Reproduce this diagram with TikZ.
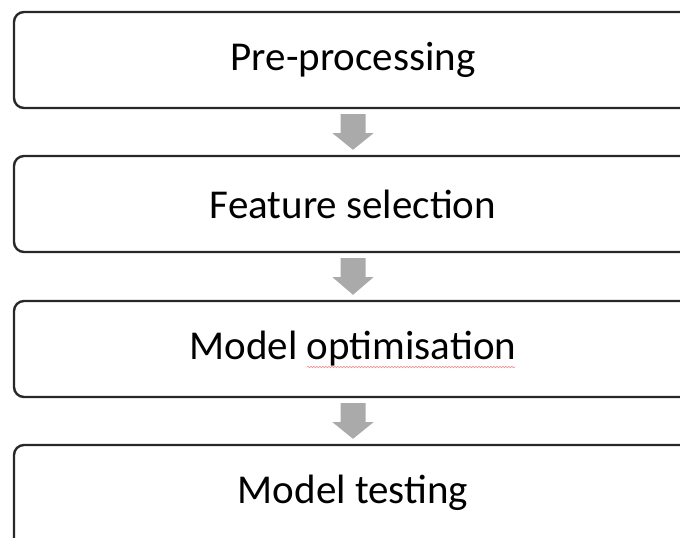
\documentclass[tikz,border=0pt]{standalone}
\usepackage{fontspec}
\setmainfont{Carlito}
\usetikzlibrary{calc,decorations.pathmorphing}
\definecolor{arrowgray}{RGB}{170,170,170}
\definecolor{boxline}{RGB}{40,40,40}
\definecolor{spellred}{RGB}{240,140,140}
\tikzset{
  stepbox/.style={draw=boxline, line width=2.4pt, rounded corners=10pt,
    minimum width=678pt, minimum height=96pt, inner sep=0pt,
    font=\fontsize{41}{49}\selectfont},
}
\newcommand{\flowarrow}[2]{%
  \fill[arrowgray]
    ($(#1.south)+(-12.5pt,-5pt)$) -- ($(#1.south)+(12.5pt,-5pt)$) --
    ($(#1.south)+(12.5pt,-24pt)$) -- ($(#1.south)+(20.5pt,-24pt)$) --
    ($(#2.north)+(0pt,5pt)$) --
    ($(#1.south)+(-20.5pt,-24pt)$) -- ($(#1.south)+(-12.5pt,-24pt)$) -- cycle;}
\begin{document}
\begin{tikzpicture}[x=1pt,y=1pt]
\useasboundingbox (0,0) rectangle (680,-538);
\node[stepbox] (pre)  at (353,-60)    {Pre-processing};
\node[stepbox] (feat) at (353,-204)   {Feature selection};
\node[stepbox] (opt)  at (353,-349)   {Model optimisation};
\node[stepbox, minimum height=116pt, text depth=0pt] (test) at (353,-503) {};
\node[font=\fontsize{41}{49}\selectfont] (testlabel) at (353,-493) {Model testing};
\flowarrow{pre}{feat}
\flowarrow{feat}{opt}
\flowarrow{opt}{test}
\coordinate (sq1) at (307,-367);
\coordinate (sq2) at (515,-367);
\draw[spellred, line width=0.6pt, decorate, decoration={snake, amplitude=0.8pt, segment length=3pt}] (sq1) -- (sq2);
\end{tikzpicture}
\end{document}
